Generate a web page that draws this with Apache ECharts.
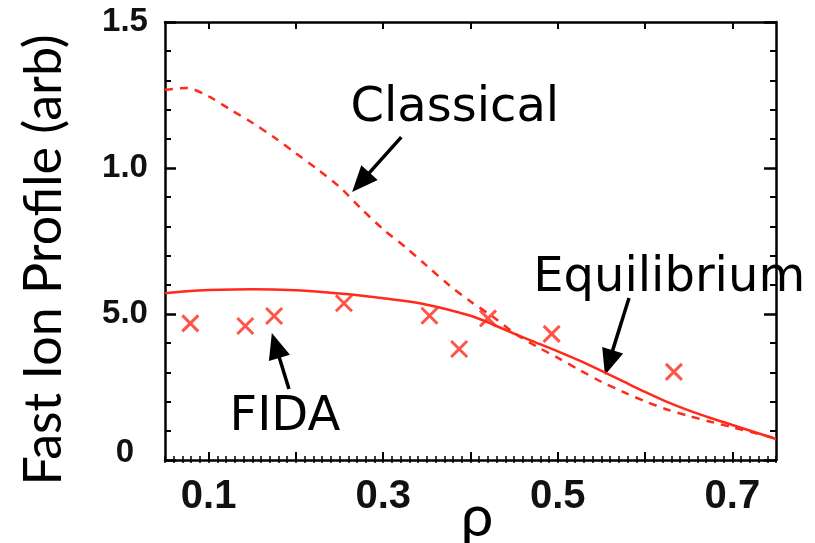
<!DOCTYPE html>
<html><head><meta charset="utf-8">
<script src="https://cdn.jsdelivr.net/npm/echarts@6/dist/echarts.min.js"></script>
<style>html,body{margin:0;padding:0;background:#fff}#c{width:815px;height:543px}</style>
</head><body><div id="c"></div>
<script>
// ---- data ----
const classicalRho = [0.05,0.075,0.10,0.125,0.15,0.175,0.20,0.225,0.25,0.275,0.30,0.325,0.35,0.375,0.40,0.425,0.45,0.475,0.50,0.525,0.55,0.575,0.60,0.625,0.65,0.675,0.70,0.725,0.75];
const classicalVal = [1.268,1.274,1.245,1.200,1.155,1.105,1.050,0.995,0.935,0.860,0.790,0.730,0.665,0.600,0.543,0.492,0.435,0.390,0.350,0.308,0.268,0.233,0.201,0.173,0.151,0.131,0.112,0.093,0.074];
const equilibriumRho = [0.05,0.075,0.10,0.15,0.20,0.25,0.30,0.35,0.40,0.425,0.45,0.475,0.50,0.525,0.55,0.575,0.60,0.625,0.65,0.675,0.70,0.725,0.75];
const equilibriumVal = [0.571,0.578,0.582,0.585,0.581,0.570,0.554,0.532,0.494,0.465,0.433,0.402,0.372,0.340,0.305,0.269,0.233,0.199,0.170,0.144,0.120,0.096,0.072];
const fidaRho = [0.079,0.142,0.175,0.255,0.353,0.387,0.420,0.493,0.633];
const fidaVal = [0.468,0.459,0.493,0.537,0.494,0.380,0.485,0.432,0.302];
const xMajorTicks = [0.1,0.2,0.3,0.4,0.5,0.6,0.7];
const xTickLabels = [0.1,0.3,0.5,0.7];
const yTickValues = [0,0.5,1.0,1.5];
const yTickLabels = ['0','5.0','1.0','1.5'];
const annotations = [
  {text:'Classical',   at:[0.382,1.202], from:[0.3207,1.106], to:[0.2644,0.918]},
  {text:'Equilibrium', at:[0.6276,0.620], from:[0.5816,0.555], to:[0.554,0.291]},
  {text:'FIDA',        at:[0.1874,0.144], from:[0.192,0.243], to:[0.1724,0.435]}
];
const yTitle = 'Fast Ion Profile (arb)';
const xTitle = 'ρ';

const RED = '#ff2a1c';
const zip = (a,b) => a.map((v,i)=>[v,b[i]]);
const chart = echarts.init(document.getElementById('c'), null, {renderer:'canvas'});

const baseX = {type:'value', min:0.05, max:0.75, splitLine:{show:false}, gridIndex:0};
const baseY = {type:'value', min:0, max:1.5, interval:0.5, splitLine:{show:false}, minorSplitLine:{show:false}};
const lineBlack = {color:'#000', width:2.5};
const tickFont = 'Liberation Sans, Arial, sans-serif';

chart.setOption({
  animation:false,
  backgroundColor:'#fff',
  grid:{left:165, right:39, top:22, bottom:83},
  xAxis:[
    Object.assign({}, baseX, {position:'bottom',
      axisLine:{show:true, onZero:false, lineStyle:lineBlack},
      axisTick:{show:true, inside:true, length:8, customValues:xMajorTicks, lineStyle:{color:'#000', width:2}},
      axisLabel:{show:true, customValues:xTickLabels, margin:17, color:'#111', fontSize:40, fontWeight:'bold', fontFamily:tickFont, formatter:v=>String(v)}}),
    Object.assign({}, baseX, {position:'bottom', interval:0.01,
      axisLine:{show:false}, axisTick:{show:true, inside:true, length:4, lineStyle:{color:'#000', width:1.5}}, axisLabel:{show:false}}),
    Object.assign({}, baseX, {position:'top',
      axisLine:{show:true, onZero:false, lineStyle:lineBlack},
      axisTick:{show:true, inside:true, length:7, customValues:xMajorTicks, lineStyle:{color:'#000', width:2}},
      axisLabel:{show:false}}),
    Object.assign({}, baseX, {position:'top', interval:0.01,
      axisLine:{show:false}, axisTick:{show:true, inside:true, length:3, lineStyle:{color:'#000', width:1.5}}, axisLabel:{show:false}})
  ],
  yAxis:[
    Object.assign({}, baseY, {position:'left',
      axisLine:{show:true, onZero:false, lineStyle:lineBlack},
      axisTick:{show:true, inside:true, length:11, lineStyle:{color:'#000', width:2.5}},
      minorTick:{show:true, splitNumber:5, length:6, lineStyle:{color:'#000', width:2}},
      axisLabel:{show:true, margin:40, align:'center', color:'#111', fontSize:33, fontWeight:'bold', fontFamily:tickFont,
        formatter:v=>{const i=yTickValues.findIndex(t=>Math.abs(t-v)<1e-6); const s=i>=0?yTickLabels[i]:''; return v===0?'{z|'+s+'}':s;},
        rich:{z:{fontSize:33, fontWeight:'bold', fontFamily:tickFont, color:'#111', padding:[0,0,14,0]}}}}),
    Object.assign({}, baseY, {position:'right',
      axisLine:{show:true, onZero:false, lineStyle:lineBlack},
      axisTick:{show:true, inside:true, length:12, lineStyle:{color:'#000', width:2.5}},
      minorTick:{show:true, splitNumber:5, length:6, lineStyle:{color:'#000', width:2}},
      axisLabel:{show:false}})
  ],
  series:[
    {name:'Classical', type:'line', xAxisIndex:0, yAxisIndex:0, data:zip(classicalRho, classicalVal), smooth:0.3, symbol:'none',
      lineStyle:{color:RED, width:2.5, type:[8,7]}},
    {name:'Equilibrium', type:'line', xAxisIndex:0, yAxisIndex:0, data:zip(equilibriumRho, equilibriumVal), smooth:0.3, symbol:'none',
      lineStyle:{color:RED, width:2.5}},
    {name:'FIDA', type:'scatter', xAxisIndex:0, yAxisIndex:0, data:zip(fidaRho, fidaVal), symbol:'path://M0,0L10,10M10,0L0,10', symbolSize:16,
      itemStyle:{color:'rgba(0,0,0,0)', borderColor:RED, borderWidth:3}}
  ]
});

// ---- annotations & axis titles ----
function arrow(p0, p1){
  const dx=p1[0]-p0[0], dy=p1[1]-p0[1], L=Math.hypot(dx,dy), ux=dx/L, uy=dy/L;
  const hl=26, hw=11;
  const bx=p1[0]-ux*hl, by=p1[1]-uy*hl;
  return [
    {type:'line', shape:{x1:p0[0], y1:p0[1], x2:bx+ux*2, y2:by+uy*2}, style:{stroke:'#000', lineWidth:3.5}},
    {type:'polygon', shape:{points:[[p1[0],p1[1]],[bx-uy*hw,by+ux*hw],[bx+uy*hw,by-ux*hw]]}, style:{fill:'#000'}}
  ];
}
const annFont = '48px "DejaVu Sans", sans-serif';
const g = [];
annotations.forEach(a=>{
  const c = chart.convertToPixel({gridIndex:0}, a.at);
  g.push({type:'text', x:c[0], y:c[1], style:{text:a.text, fill:'#000', font:annFont, textAlign:'center', textVerticalAlign:'middle'}});
  arrow(chart.convertToPixel({gridIndex:0}, a.from), chart.convertToPixel({gridIndex:0}, a.to)).forEach(e=>g.push(e));
});
g.push({type:'text', x:44, y:260, rotation:Math.PI/2, style:{text:yTitle, fill:'#000', font:'52px Lato, "Noto Sans", sans-serif', textAlign:'center', textVerticalAlign:'middle'}});
g.push({type:'text', x:477, y:517, style:{text:xTitle, fill:'#000', font:'58px Lato, "Noto Sans", sans-serif', textAlign:'center', textVerticalAlign:'middle'}});
chart.setOption({graphic:g});
</script></body></html>
